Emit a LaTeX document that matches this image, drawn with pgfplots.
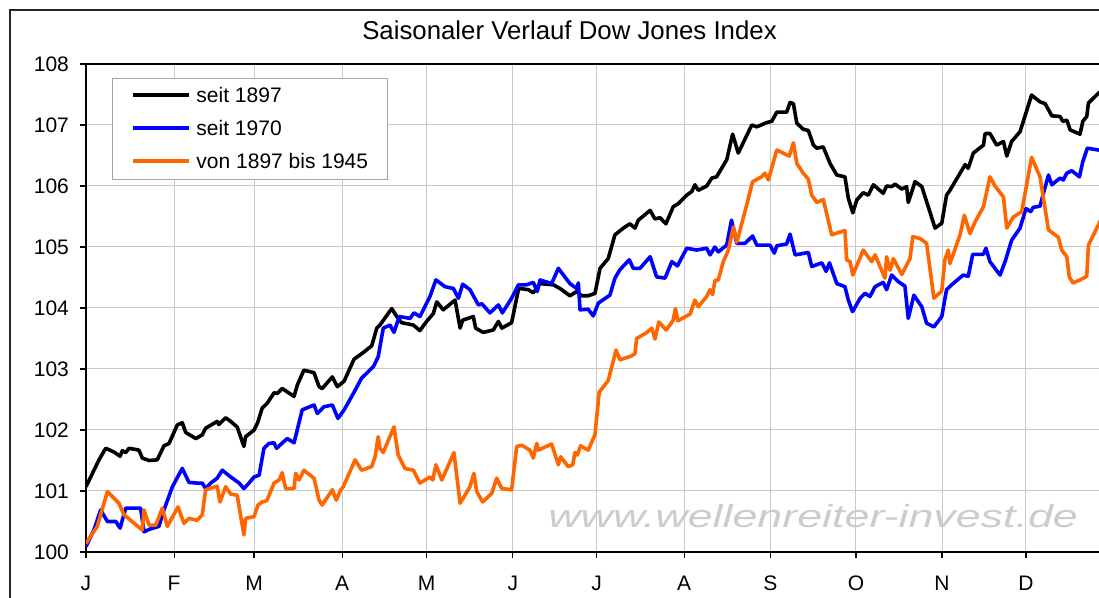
\documentclass[border=0pt]{standalone}
\usepackage{fontspec}
\setmainfont{Liberation Sans}
\usepackage{pgfplots}
\pgfplotsset{compat=1.18}
\usepackage{graphicx}
\definecolor{djblue}{HTML}{0000FF}
\definecolor{djorange}{HTML}{FF6600}
\definecolor{gridgray}{HTML}{C8C8C8}
\begin{document}
\begin{tikzpicture}
\useasboundingbox (0pt,0pt) rectangle (549.5pt,299pt);
\begin{scope}[x=0.5pt,y=0.5pt]
\draw[line width=0.7pt, black!85] (10,-20) -- (10,588) -- (1120,588);
\node[anchor=base, inner sep=0pt, font=\fontsize{12.9}{15}\selectfont] at (569.5,558) {Saisonaler Verlauf Dow Jones Index};
\node[anchor=base west, text=gray!40, font=\fontsize{16}{19}\selectfont\itshape, inner sep=0pt] at (548,70) {\scalebox{1.4}[1]{www.wellenreiter-invest.de}};
\end{scope}
\begin{axis}[
  at={(43pt,23pt)}, anchor=south west,
  scale only axis, width=513.75pt, height=244pt,
  xmin=0, xmax=365, ymin=100, ymax=108,
  xtick={0,31.3,59.7,91,121,151.6,181.4,212.5,243.1,273.5,304.1,333.9},
  xticklabels={J,F,M,A,M,J,J,A,S,O,N,D},
  ytick={100,101,...,108},
  grid=major, major grid style={gridgray, line width=0.5pt},
  tick align=outside, tick pos=left, major tick length=3pt,
  tick style={black, line width=0.6pt},
  axis line style={black, line width=0.75pt},
  ticklabel style={font=\fontsize{10.5}{12}\selectfont},
  xticklabel style={yshift=-5.5pt},
  yticklabel style={xshift=-2pt},
  /pgf/number format/assume math mode=true,
  legend cell align=left,
  legend style={at={(0.0253,0.971)}, anchor=north west, draw=gray!70, line width=0.5pt, fill=white,
    inner xsep=9.5pt, inner ysep=4.5pt, row sep=8pt, column sep=2.5pt,
    font=\fontsize{10.5}{12}\selectfont,
    nodes={inner sep=0pt, text height=7.5pt, text depth=0pt, anchor=base west}},
  legend image code/.code={\path (0pt,0pt) (28pt,0pt); \draw[#1, line width=2pt] (0pt,3.75pt) -- (28pt,3.75pt);},
  every axis plot/.append style={line width=1.8pt, line join=round, no markers},
]
\addplot[black] coordinates {
(0,101.07) (4.6,101.51) (7.0,101.70) (9.9,101.64) (12.1,101.57) (12.9,101.66) (14.1,101.63) (15.3,101.70)
(18.8,101.67) (20.0,101.54) (22.4,101.50) (25.3,101.51) (27.7,101.74) (29.5,101.78) (32.4,102.08) (34.2,102.12)
(35.4,101.96) (39.0,101.86) (41.3,101.92) (42.5,102.03) (46.6,102.14) (47.2,102.09) (49.6,102.20) (51.4,102.14)
(53.7,102.05) (56.1,101.73) (56.7,101.89) (59.7,102.00) (60.9,102.11) (62.6,102.36) (64.4,102.44) (66.8,102.61)
(68.0,102.60) (69.7,102.68) (73.9,102.55) (75.1,102.74) (77.4,102.98) (81.0,102.94) (82.8,102.71) (83.9,102.68)
(87.5,102.87) (89.3,102.71) (91.7,102.80) (95.2,103.16) (98.5,103.27) (101.5,103.38) (103.3,103.67) (104.4,103.72)
(108.6,103.99) (110.4,103.86) (112.1,103.76) (116.3,103.72) (118.6,103.63) (121.0,103.78) (123.4,103.91) (124.6,104.10)
(126.9,103.97) (131.1,104.13) (132.9,103.67) (133.8,103.80) (137.6,103.86) (138.4,103.67) (141.1,103.60) (144.7,103.64)
(146.5,103.78) (147.7,103.67) (151.2,103.76) (153.6,104.30) (154.2,104.32) (157.1,104.30) (158.9,104.25) (161.3,104.40)
(166.0,104.38) (168.4,104.32) (171.9,104.20) (174.3,104.27) (176.1,104.20) (178.4,104.20) (180.8,104.24) (182.6,104.65)
(185.5,104.81) (187.9,105.20) (190.9,105.31) (193.2,105.38) (195.0,105.31) (196.2,105.44) (200.4,105.60) (202.1,105.46)
(203.9,105.48) (206.0,105.38) (208.6,105.66) (210.4,105.71) (213.4,105.85) (215.2,105.91) (216.3,106.02) (217.5,105.93)
(220.5,106.00) (222.3,106.13) (224.0,106.15) (227.6,106.43) (229.7,106.85) (231.7,106.54) (236.5,107.00) (238.3,106.97)
(241.8,107.04) (243.6,107.06) (245.4,107.21) (248.9,107.21) (250.1,107.37) (251.3,107.35) (252.5,107.03) (254.8,106.93)
(256.6,106.91) (258.4,106.67) (259.6,106.62) (261.9,106.64) (264.3,106.37) (266.7,106.18) (269.6,106.15) (270.8,105.80)
(272.4,105.56) (273.8,105.77) (276.1,105.89) (277.9,105.85) (279.7,106.02) (283.2,105.88) (284.4,106.00) (286.2,105.99)
(287.4,106.03) (289.8,105.95) (291.5,105.99) (292.1,105.73) (294.5,106.07) (296.9,105.99) (299.2,105.66) (301.6,105.31)
(304.0,105.39) (305.7,105.85) (306.9,105.93) (308.7,106.07) (312.3,106.35) (313.4,106.29) (315.2,106.54) (318.8,106.67)
(319.4,106.86) (321.1,106.86) (323.5,106.67) (325.9,106.73) (327.1,106.49) (328.8,106.73) (331.8,106.89) (335.9,107.49)
(338.9,107.38) (340.7,107.35) (343.1,107.15) (346.0,107.14) (347.0,107.06) (348.4,107.08) (349.6,106.92) (353.1,106.85)
(354.1,107.06) (355.5,107.14) (356.1,107.36) (359.6,107.52) (362,107.60)
};
\addlegendentry{seit 1897}
\addplot[djblue] coordinates {
(0,100.09) (2.8,100.36) (5.2,100.69) (7.6,100.50) (10.6,100.50) (12.1,100.39) (14.1,100.72) (19.4,100.72)
(20.6,100.33) (22.4,100.37) (25.9,100.42) (27.7,100.69) (30.7,101.07) (34.2,101.37) (36.6,101.14) (39.5,101.13)
(41.3,101.13) (42.5,101.04) (44.3,101.13) (46.6,101.21) (48.4,101.34) (51.4,101.23) (54.4,101.13) (56.1,101.04)
(57.9,101.13) (59.7,101.23) (61.5,101.26) (63.2,101.70) (65.0,101.78) (66.8,101.79) (67.7,101.70) (70.3,101.81)
(71.5,101.86) (73.9,101.79) (76.8,102.33) (81.0,102.41) (82.2,102.27) (84.5,102.38) (87.5,102.41) (89.5,102.19)
(91.7,102.33) (95.0,102.60) (97.9,102.85) (102.1,103.04) (103.8,103.20) (105.6,103.67) (108.0,103.72) (109.4,103.60)
(111.3,103.86) (115.1,103.83) (116.5,103.92) (118.6,103.86) (122.2,104.19) (124.3,104.46) (127.5,104.35) (130.5,104.32)
(132.3,104.16) (133.8,104.39) (136.4,104.30) (139.4,104.05) (140.6,104.07) (143.5,103.92) (146.5,104.05) (147.9,103.92)
(151.2,104.16) (153.6,104.38) (156.5,104.38) (158.9,104.42) (160.3,104.27) (161.3,104.46) (165.4,104.40) (167.8,104.65)
(169.6,104.54) (171.9,104.40) (174.3,104.32) (174.9,104.41) (175.5,103.97) (178.4,103.98) (180.2,103.87) (182.0,104.08)
(182.6,104.10) (186.1,104.21) (187.9,104.49) (189.7,104.63) (193.0,104.79) (194.4,104.65) (196.8,104.65) (200.4,104.84)
(202.7,104.51) (205.7,104.49) (208.1,104.76) (210.1,104.69) (213.4,104.98) (216.9,104.95) (220.5,104.98) (221.7,104.87)
(223.4,105.00) (224.6,104.92) (227.6,105.03) (229.3,105.44) (231.2,105.06) (234.1,105.06) (236.8,105.18) (238.3,105.03)
(243.0,105.03) (244.5,104.90) (245.4,105.02) (248.9,105.05) (250.1,105.21) (251.9,104.87) (256.6,104.91) (257.8,104.68)
(261.4,104.74) (262.9,104.60) (264.1,104.74) (266.7,104.40) (269.6,104.35) (270.8,104.13) (272.3,103.94) (275.0,104.16)
(276.7,104.24) (278.5,104.19) (280.3,104.35) (283.2,104.42) (284.4,104.30) (286.2,104.54) (288.6,104.43) (290.9,104.36)
(292.1,103.83) (294.1,104.21) (296.9,104.02) (298.6,103.75) (301.2,103.69) (304.0,103.86) (305.7,104.30) (307.5,104.38)
(311.6,104.54) (313.4,104.52) (315.0,104.88) (318.8,104.88) (319.7,104.98) (321.1,104.76) (324.7,104.54) (326.5,104.76)
(328.8,105.11) (331.8,105.31) (333.9,105.63) (335.6,105.58) (336.5,105.65) (338.9,105.67) (340.1,105.88) (341.9,106.18)
(343.1,106.02) (346.0,106.13) (347.2,106.10) (348.4,106.21) (350.2,106.25) (352.9,106.15) (354.1,106.40) (355.7,106.62)
(359.6,106.59) (362,106.58)
};
\addlegendentry{seit 1970}
\addplot[djorange] coordinates {
(0,100.14) (4.0,100.42) (7.6,100.99) (11.7,100.80) (13.5,100.61) (20.0,100.36) (20.6,100.69) (22.4,100.44)
(24.8,100.44) (27.1,100.72) (28.9,100.42) (32.7,100.74) (34.8,100.47) (36.6,100.55) (39.5,100.52) (41.3,100.61)
(42.5,101.02) (46.6,101.08) (47.6,100.82) (49.6,101.07) (51.4,100.95) (53.7,100.93) (56.1,100.28) (56.7,100.55)
(59.7,100.58) (61.1,100.77) (62.6,100.82) (64.2,100.84) (66.8,101.13) (68.6,101.18) (69.7,101.30) (70.9,101.04)
(73.9,101.04) (74.5,101.29) (75.7,101.18) (77.4,101.34) (81.0,101.21) (82.8,100.85) (83.9,100.77) (87.5,101.02)
(88.9,100.85) (90.5,101.02) (91.4,101.07) (95.6,101.51) (97.9,101.34) (101.5,101.40) (102.7,101.56) (103.8,101.89)
(104.4,101.70) (105.6,101.63) (109.4,102.05) (110.9,101.59) (113.3,101.37) (116.3,101.34) (118.6,101.13) (122.2,101.23)
(123.2,101.18) (124.3,101.43) (126.4,101.18) (130.7,101.63) (132.9,100.80) (134.6,100.93) (136.4,101.07) (137.8,101.29)
(138.8,100.99) (140.9,100.82) (144.1,100.96) (145.9,101.21) (147.7,101.04) (151.2,101.02) (153.0,101.73) (154.8,101.75)
(157.7,101.67) (158.9,101.54) (160.1,101.78) (160.7,101.67) (165.4,101.77) (167.8,101.43) (168.6,101.56) (171.3,101.40)
(172.9,101.43) (173.7,101.63) (174.5,101.59) (175.7,101.74) (178.4,101.67) (180.8,101.92) (182.3,102.62) (185.5,102.81)
(188.3,103.31) (189.7,103.15) (193.6,103.21) (195.0,103.25) (195.6,103.50) (199.3,103.60) (201.0,103.67) (202.1,103.49)
(203.5,103.77) (206.1,103.64) (208.5,103.79) (209.4,103.99) (210.2,103.79) (214.6,103.90) (216.3,104.13) (217.5,104.02)
(220.5,104.19) (221.7,104.30) (222.6,104.22) (223.4,104.45) (224.6,104.46) (226.4,104.76) (228.2,104.95) (230.0,105.33)
(231.2,105.08) (234.7,105.69) (236.8,106.07) (240.0,106.15) (241.2,106.21) (242.4,106.10) (245.4,106.59) (249.8,106.49)
(251.3,106.71) (252.5,106.37) (254.8,106.21) (256.6,106.11) (257.8,105.85) (259.6,105.73) (261.9,105.78) (264.9,105.20)
(269.6,105.27) (270.2,104.79) (271.4,104.76) (272.4,104.54) (276.1,104.95) (279.1,104.76) (280.3,104.87) (283.8,104.49)
(284.4,104.84) (285.6,104.62) (286.8,104.81) (289.8,104.55) (292.7,104.81) (293.7,105.17) (296.3,105.14) (298.6,105.06)
(301.2,104.16) (304.0,104.28) (305.1,104.79) (306.3,104.95) (306.9,104.73) (310.5,105.20) (312.0,105.52) (314.0,105.22)
(315.8,105.41) (318.8,105.66) (321.1,106.15) (322.9,106.00) (325.9,105.82) (327.1,105.31) (329.4,105.49) (332.4,105.58)
(335.9,106.47) (338.9,106.15) (341.9,105.28) (345.4,105.16) (346.6,104.95) (348.4,104.84) (349.3,104.51) (350.6,104.41)
(353.1,104.46) (355.5,104.52) (356.1,105.03) (359.9,105.39) (362,105.60)
};
\addlegendentry{von 1897 bis 1945}
\end{axis}
\end{tikzpicture}
\end{document}
